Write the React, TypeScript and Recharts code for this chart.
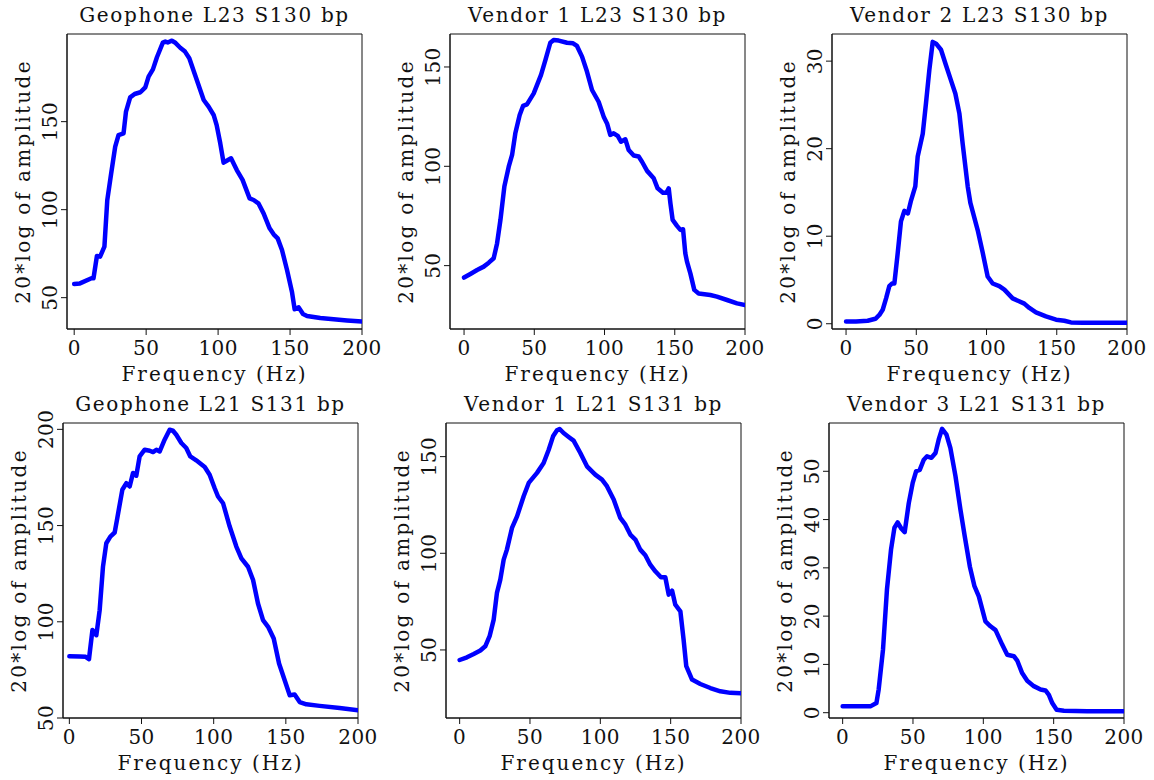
import { Line, LineChart, ReferenceArea, XAxis, YAxis } from "recharts";

// amplitude spectra (Hz, 20*log of amplitude)

const geoL23Freq = [0, 4, 12, 13.4, 15.8, 18, 21, 23, 25.7, 28.5, 30.8, 34.3, 36, 38.9, 42, 46, 49.4, 51.7, 54.7, 57.5, 61.6, 63.3, 65, 67.9, 70, 73.7, 77, 80, 84, 90, 93.4, 96.9, 99, 101.5, 103.8, 106, 109, 113, 117, 121.9, 124.7, 128, 131.6, 135.8, 138.6, 141.4, 144.4, 147.9, 151.3, 153.2, 156, 159, 161.8, 171, 180.3, 189.6, 200];
const geoL23Amp = [57.8, 58.1, 61, 61, 73.7, 73.3, 79, 105.5, 120.6, 135.8, 142.4, 143.4, 155.7, 163.8, 165.7, 166.7, 169.5, 175.6, 179.7, 186.6, 194.9, 195.5, 195, 196, 195, 192, 189.8, 186, 176.5, 162.3, 158.5, 153.8, 148, 137.7, 126.7, 127.8, 129.2, 122.5, 116.9, 106.4, 105.5, 103.6, 97.9, 89.4, 86, 83.7, 77.1, 65.7, 53.4, 43.4, 44.5, 40.7, 39.6, 38.4, 37.7, 37, 36.4];

const v1L23Freq = [0, 4.5, 9.3, 14, 17.6, 21.1, 23.5, 25.9, 28.7, 31.8, 34.2, 36.5, 39.6, 42, 44.8, 49.6, 54.8, 57.9, 61.4, 63.8, 67.4, 73.3, 77.6, 80.4, 84, 87.5, 91.1, 95.8, 99.4, 101.8, 104.1, 106.5, 109.4, 111.7, 114.8, 117.2, 120.8, 124.3, 126.7, 130.3, 135, 137.8, 141.6, 144, 145.7, 146.9, 148.5, 151.6, 154, 155.9, 157.5, 158.7, 161.1, 163.9, 167, 175.3, 180, 187.2, 194.3, 200];
const v1L23Amp = [44, 45.8, 47.8, 49.5, 51.5, 53.7, 61.2, 73, 89.8, 99.8, 105.7, 116.6, 125.8, 130.4, 131.2, 136.7, 146, 153.5, 162.2, 163.6, 163.3, 162.2, 161.9, 160.6, 155.2, 147.7, 138.4, 132.5, 125, 121.6, 115.8, 116.6, 115.3, 112.4, 113.6, 108.2, 105.4, 104.9, 102.3, 97.7, 94, 88.9, 86.7, 86.7, 88.9, 81.4, 73, 70, 68, 68.3, 56.2, 52, 46.1, 37.8, 36, 35.2, 34.4, 32.7, 31, 30.2];

const v2L23Freq = [0, 7.1, 15.4, 20.9, 23.7, 26.1, 28.5, 30.8, 32.7, 34.4, 36.8, 39.1, 41.5, 44, 46.3, 49.3, 51, 54.6, 56.9, 59.3, 61.7, 64.1, 67.6, 71.2, 74.7, 77.8, 80.7, 83, 86.6, 88.5, 93.7, 97.3, 100.8, 104.4, 109.1, 112.7, 118.6, 126.9, 130.5, 135.2, 142.3, 149.5, 155.4, 160.1, 168.4, 182.7, 200];
const v2L23Amp = [0.27, 0.27, 0.34, 0.57, 1.0, 1.6, 2.9, 4.3, 4.6, 4.6, 8.1, 11.7, 12.9, 12.6, 14.1, 15.7, 19.1, 21.7, 25.2, 29, 32.2, 32, 31.3, 29.5, 27.8, 26.3, 24, 20.6, 15.7, 13.8, 10.7, 8.1, 5.4, 4.6, 4.3, 3.9, 2.9, 2.3, 1.8, 1.3, 0.84, 0.46, 0.34, 0.15, 0.11, 0.11, 0.11];

const geoL21Freq = [0, 7.2, 11.3, 13.6, 16, 17.6, 18.7, 21, 23.3, 25.6, 28.4, 31.4, 33, 36.7, 39.5, 41.8, 44.1, 46.4, 48.7, 52.2, 55.7, 58, 60.3, 62.6, 66, 69.5, 71.8, 74.1, 77.6, 81, 83.8, 87.9, 93.8, 97.2, 100.7, 103, 106.5, 111.1, 115.7, 119.2, 123.8, 127.3, 130.7, 134.2, 137.7, 141.6, 145.3, 149.2, 152.7, 156.1, 159.6, 164.2, 173.4, 187.3, 200];
const geoL21Amp = [82.1, 82, 81.8, 80.6, 95.7, 94.3, 93, 106, 128.6, 140.8, 144.3, 146.4, 153, 168.6, 172, 170.3, 177.3, 175.9, 186, 189.4, 188.9, 188.2, 189.4, 188.5, 194.6, 199.8, 199.3, 197.2, 192.9, 190.3, 185.9, 183.9, 180.4, 176.4, 169.4, 165.1, 161.6, 149.5, 139.1, 133, 128.6, 121.7, 109.5, 100.9, 97.4, 91.3, 78.3, 69.6, 61.8, 62.2, 58.3, 57.1, 56.3, 55.2, 54];

const v1L21Freq = [0, 5.2, 10, 14.7, 18.2, 21.3, 24.2, 26.5, 28.9, 31.3, 33.6, 37.2, 40.8, 45.5, 49.1, 55, 59.7, 63.3, 66.4, 69.2, 71.1, 73.9, 77.5, 81, 85.8, 90.5, 96.4, 101.2, 104.7, 109.5, 114.2, 117.8, 121.3, 124.9, 128.4, 132, 135.5, 139.1, 143.1, 146.2, 148.6, 151, 153.3, 156.9, 159.2, 161.1, 165.2, 171.1, 178.2, 185.3, 192.4, 200];
const v1L21Amp = [44.8, 46.2, 47.9, 49.7, 51.9, 57.1, 65.7, 79.5, 86.4, 96.7, 101.9, 113.1, 119.1, 129.5, 136.4, 141.6, 146.7, 153.6, 160.5, 163.6, 164.3, 162.2, 160.2, 158.3, 151.9, 145, 140.7, 138.1, 134.7, 127.8, 118.3, 114.8, 109.7, 107.1, 101.9, 99, 94.1, 90.7, 87.6, 87.6, 78.6, 80.7, 73.4, 70, 55.3, 41.6, 34.7, 32.4, 30.3, 28.6, 27.8, 27.6];

const v3L21Freq = [0, 10.2, 19.7, 24, 25.6, 28.7, 31.5, 34.4, 36.8, 39.1, 41.8, 44.1, 47, 49.8, 52.2, 54.8, 57.7, 60, 63.1, 66, 68.3, 70.7, 73.8, 76.6, 80.2, 83.7, 86.8, 90.4, 93.7, 96.8, 101.5, 105.1, 108.7, 113.4, 117, 121.7, 124.1, 127.6, 131.2, 135.9, 140.7, 144.2, 146.6, 149, 152.1, 157.3, 173.9, 200];
const v3L21Amp = [1.31, 1.31, 1.31, 2, 4.8, 13.1, 25.5, 33.8, 38.3, 39.4, 38.1, 37.4, 43.4, 47.6, 50, 50.3, 52.4, 53.1, 52.8, 53.8, 56.6, 58.8, 57.6, 54.8, 49, 42.1, 36.5, 30.3, 26.2, 24.1, 18.9, 17.9, 17.1, 14.1, 12, 11.7, 10.8, 8.2, 6.6, 5.5, 4.8, 4.6, 3.7, 2, 0.6, 0.41, 0.28, 0.28];

const xTicks = [0, 50, 100, 150, 200];
const bigTicks = [50, 100, 150];
const geoL21Ticks = [50, 100, 150, 200];
const v2Ticks = [0, 10, 20, 30];
const v3Ticks = [0, 10, 20, 30, 40, 50];

const FONT = '"DejaVu Serif", serif';
const FS = 20;
const INK = "#111";
const W = 385;
const H = 390;
const BOX_L = 67;
const BOX_T = 34;
const BOX = 295;

type Panel = {
  title: string;
  freq: number[];
  amp: number[];
  xMin: number;
  yDomain: [number, number];
  yTicks: number[];
  left: number; // page position of the plot frame
  top: number;
};

const panels: Panel[] = [
  { title: "Geophone L23 S130 bp", freq: geoL23Freq, amp: geoL23Amp, xMin: -5, yDomain: [32.2, 199.8], yTicks: bigTicks, left: 67, top: 34 },
  { title: "Vendor 1 L23 S130 bp", freq: v1L23Freq, amp: v1L23Amp, xMin: -10, yDomain: [18.1, 166.6], yTicks: bigTicks, left: 450, top: 34 },
  { title: "Vendor 2 L23 S130 bp", freq: v2L23Freq, amp: v2L23Amp, xMin: -10, yDomain: [-0.6, 33.1], yTicks: v2Ticks, left: 832, top: 34 },
  { title: "Geophone L21 S131 bp", freq: geoL21Freq, amp: geoL21Amp, xMin: -4.4, yDomain: [50, 203.3], yTicks: geoL21Ticks, left: 63, top: 423 },
  { title: "Vendor 1 L21 S131 bp", freq: v1L21Freq, amp: v1L21Amp, xMin: -9.7, yDomain: [14.8, 167.4], yTicks: bigTicks, left: 446, top: 423 },
  { title: "Vendor 3 L21 S131 bp", freq: v3L21Freq, amp: v3L21Amp, xMin: -9.7, yDomain: [-1.1, 60], yTicks: v3Ticks, left: 829, top: 423 },
];

// y tick labels are rotated, reading bottom to top
function YTick(props: any) {
  const { x, y, payload } = props;
  return (
    <text
      x={x}
      y={y}
      transform={`rotate(-90, ${x}, ${y})`}
      textAnchor="middle"
      fontFamily={FONT}
      fontSize={FS}
      letterSpacing={0.4}
      fill={INK}
    >
      {payload.value}
    </text>
  );
}

function SpectrumPanel({ p }: { p: Panel }) {
  const data = p.freq.map((hz, i) => ({ hz, amp: p.amp[i] }));
  return (
    <div style={{ position: "absolute", left: p.left - BOX_L, top: p.top - BOX_T, width: W, height: H }}>
      <div
        style={{
          position: "absolute",
          left: BOX_L - 20,
          top: BOX_T - 29,
          width: BOX + 40,
          textAlign: "center",
          fontFamily: FONT,
          fontSize: FS,
          lineHeight: `${FS}px`,
          letterSpacing: 1.65,
          whiteSpace: "nowrap",
          color: INK,
        }}
      >
        {p.title}
      </div>
      <LineChart
        width={W}
        height={H}
        data={data}
        margin={{ top: BOX_T, right: W - BOX_L - BOX, bottom: H - BOX_T - BOX - 30, left: BOX_L - 40 }}
      >
        <XAxis
          dataKey="hz"
          type="number"
          domain={[p.xMin, 200]}
          ticks={xTicks}
          allowDataOverflow
          height={30}
          tickSize={6}
          tickMargin={6}
          stroke={INK}
          tick={{ fill: INK, fontFamily: FONT, fontSize: FS, letterSpacing: 0.4 }}
          label={(lp: any) => {
            const vb = lp.viewBox;
            return (
              <text
                x={vb.x + vb.width / 2}
                y={vb.y + 52}
                textAnchor="middle"
                fontFamily={FONT}
                fontSize={FS}
                letterSpacing={2}
                fill={INK}
              >
                Frequency (Hz)
              </text>
            );
          }}
        />
        <YAxis
          type="number"
          domain={p.yDomain}
          ticks={p.yTicks}
          allowDataOverflow
          width={40}
          tickSize={6}
          tickMargin={4}
          stroke={INK}
          tick={<YTick />}
          label={(lp: any) => {
            const vb = lp.viewBox;
            const x = vb.x + vb.width - 37.5;
            const y = vb.y + vb.height / 2;
            return (
              <text
                x={x}
                y={y}
                transform={`rotate(-90, ${x}, ${y})`}
                textAnchor="middle"
                fontFamily={FONT}
                fontSize={FS}
                letterSpacing={2.3}
                fill={INK}
              >
                20*log of amplitude
              </text>
            );
          }}
        />
        <ReferenceArea
          x1={p.xMin}
          x2={200}
          y1={p.yDomain[0]}
          y2={p.yDomain[1]}
          fill="none"
          stroke={INK}
          strokeWidth={1}
          ifOverflow="visible"
        />
        <Line
          type="linear"
          dataKey="amp"
          stroke="#0000ff"
          strokeWidth={4.5}
          strokeLinejoin="round"
          strokeLinecap="round"
          dot={false}
          isAnimationActive={false}
        />
      </LineChart>
    </div>
  );
}

export default function App() {
  return (
    <div
      style={{
        position: "absolute",
        left: 0,
        top: 0,
        width: 1154,
        height: 780,
        overflow: "hidden",
        background: "#fff",
      }}
    >
      {panels.map((p) => (
        <SpectrumPanel key={p.title} p={p} />
      ))}
    </div>
  );
}
